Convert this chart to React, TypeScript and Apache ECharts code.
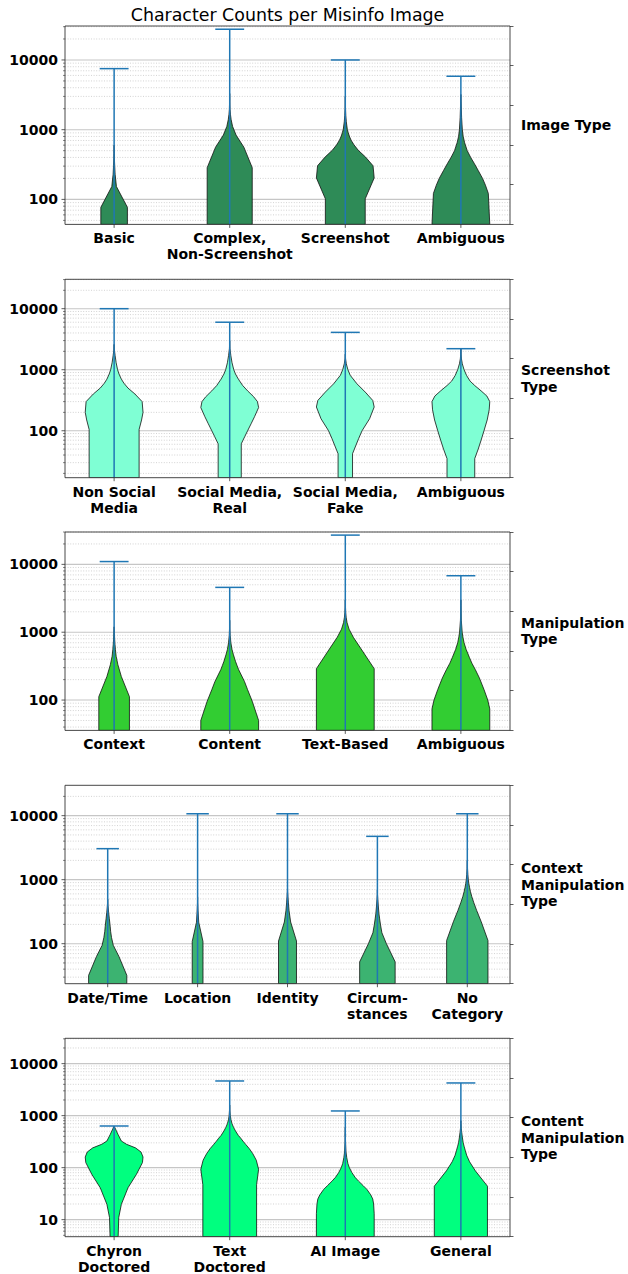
import React, { useEffect, useRef } from 'react';
import * as echarts from 'echarts';

const FONT = "'DejaVu Sans', 'Liberation Sans', sans-serif";

const chartTitle = 'Character Counts per Misinfo Image';

// Tick values for the log axes
const majorTickValues = [1, 10, 100, 1000, 10000];
const minorMultipliers = [2, 3, 4, 5, 6, 7, 8, 9];

// ---- Panel 1: Image Type ----
const imageTypeCategories = ['Basic', 'Complex,\nNon-Screenshot', 'Screenshot', 'Ambiguous'];
const imageTypeMax = [7510, 27600, 10000, 5840];
// each violin: [value, relative half-width] from the top of its vertical base upward
const imageTypeViolins = [
  [[77, 0.46], [153, 0.08], [229, 0.035], [305, 0.02], [381, 0.01], [457, 0.005], [600, 0]],
  [[285, 0.78], [561, 0.49], [837, 0.22], [1113, 0.1], [1390, 0.05], [1666, 0.025], [1942, 0.012], [2500, 0.004], [3300, 0]],
  [[102, 0.69], [203, 1.0], [304, 0.96], [405, 0.7], [506, 0.45], [607, 0.3], [708, 0.2], [809, 0.14], [910, 0.1], [1011, 0.07], [1300, 0.035], [1600, 0.018], [2000, 0.008], [2500, 0.002], [3000, 0]],
  [[122, 0.95], [160, 0.85], [200, 0.75], [260, 0.6], [330, 0.46], [400, 0.34], [500, 0.22], [650, 0.13], [800, 0.08], [1000, 0.05], [1500, 0.025], [2500, 0.008], [3200, 0]],
];
const imageTypeBase = [0.46, 0.78, 0.69, 1.0];

// ---- Panel 2: Screenshot Type ----
const screenshotTypeCategories = ['Non Social\nMedia', 'Social Media,\nReal', 'Social Media,\nFake', 'Ambiguous'];
const screenshotTypeMax = [10000, 6000, 4090, 2210];
const screenshotTypeViolins = [
  [[105, 0.865], [150, 0.95], [200, 1.0], [300, 0.97], [400, 0.72], [500, 0.48], [600, 0.34], [700, 0.25], [850, 0.17], [1000, 0.12], [1300, 0.07], [1700, 0.035], [2100, 0.01], [2600, 0]],
  [[61, 0.4], [80, 0.52], [100, 0.62], [130, 0.74], [170, 0.86], [240, 1.0], [300, 0.96], [360, 0.83], [450, 0.62], [550, 0.45], [700, 0.3], [850, 0.2], [1000, 0.14], [1300, 0.08], [1700, 0.04], [2200, 0.01], [3000, 0]],
  [[42, 0.25], [74, 0.46], [100, 0.58], [157, 0.84], [245, 1.0], [314, 0.95], [430, 0.69], [590, 0.4], [810, 0.17], [1000, 0.09], [1250, 0.035], [1500, 0.01], [1800, 0]],
  [[35, 0.48], [50, 0.6], [70, 0.7], [100, 0.8], [150, 0.91], [220, 0.98], [300, 1.0], [370, 0.9], [450, 0.7], [550, 0.48], [650, 0.32], [800, 0.2], [1000, 0.11], [1250, 0.05], [1500, 0.02], [1800, 0.005], [2200, 0]],
];
const screenshotTypeBase = [0.865, 0.4, 0.25, 0.48];

// ---- Panel 3: Manipulation Type ----
const manipulationTypeCategories = ['Context', 'Content', 'Text-Based', 'Ambiguous'];
const manipulationTypeMax = [11000, 4580, 27000, 6800];
const manipulationTypeViolins = [
  [[112, 0.53], [222, 0.25], [332, 0.13], [442, 0.07], [552, 0.045], [662, 0.03], [772, 0.02], [1000, 0.008], [1200, 0]],
  [[50, 1.0], [96, 0.78], [142, 0.62], [188, 0.51], [234, 0.4], [280, 0.31], [326, 0.25], [372, 0.2], [464, 0.13], [556, 0.08], [700, 0.04], [900, 0.015], [1200, 0.004], [1500, 0]],
  [[290, 1.0], [565, 0.55], [840, 0.28], [1110, 0.13], [1390, 0.06], [1660, 0.03], [1940, 0.015], [2500, 0.004], [3000, 0]],
  [[74, 1.0], [100, 0.93], [143, 0.8], [212, 0.64], [281, 0.5], [350, 0.38], [420, 0.3], [560, 0.18], [700, 0.11], [850, 0.07], [1000, 0.045], [1500, 0.015], [2500, 0.003], [3000, 0]],
];
const manipulationTypeBase = [0.53, 1.0, 1.0, 1.0];

// ---- Panel 4: Context Manipulation Type ----
const contextTypeCategories = ['Date/Time', 'Location', 'Identity', 'Circum-\nstances', 'No\nCategory'];
const contextTypeMax = [3050, 10700, 10700, 4750, 10700];
const contextTypeViolins = [
  [[32, 0.85], [63, 0.5], [94, 0.25], [125, 0.17], [156, 0.13], [187, 0.11], [250, 0.07], [310, 0.04], [400, 0.012], [500, 0]],
  [[108, 0.24], [216, 0.05], [324, 0.02], [432, 0.005], [540, 0]],
  [[110, 0.4], [218, 0.14], [326, 0.07], [434, 0.04], [542, 0.02], [650, 0.005], [760, 0]],
  [[52, 0.79], [100, 0.4], [148, 0.2], [196, 0.14], [244, 0.1], [292, 0.07], [388, 0.04], [484, 0.02], [580, 0.005], [700, 0]],
  [[112, 0.92], [220, 0.62], [328, 0.42], [436, 0.29], [544, 0.2], [652, 0.14], [760, 0.1], [868, 0.07], [1000, 0.045], [1200, 0.025], [1500, 0.01], [2000, 0]],
];
const contextTypeBase = [0.85, 0.24, 0.4, 0.79, 0.92];

// ---- Panel 5: Content Manipulation Type ----
const contentTypeCategories = ['Chyron\nDoctored', 'Text\nDoctored', 'AI Image', 'General'];
const contentTypeMax = [632, 4640, 1230, 4250];
const contentTypeViolins = [
  [[11, 0.16], [19.7, 0.25], [41, 0.48], [74, 0.77], [125, 0.98], [160, 1.0], [200, 0.93], [240, 0.74], [281, 0.43], [325, 0.25], [440, 0.13], [550, 0.05], [630, 0]],
  [[47, 0.93], [93, 1.0], [139, 0.92], [185, 0.8], [231, 0.68], [277, 0.56], [323, 0.46], [369, 0.38], [415, 0.3], [507, 0.2], [600, 0.13], [700, 0.08], [850, 0.04], [1000, 0.02], [1300, 0.006], [1600, 0]],
  [[13, 1.0], [20, 0.98], [25, 0.95], [30, 0.88], [38, 0.75], [45, 0.62], [55, 0.46], [65, 0.34], [80, 0.23], [100, 0.14], [120, 0.09], [156, 0.05], [200, 0.025], [300, 0.01], [380, 0.006], [430, 0.012], [480, 0.004], [600, 0]],
  [[44, 0.92], [87, 0.5], [130, 0.3], [173, 0.2], [216, 0.15], [259, 0.11], [302, 0.08], [388, 0.05], [474, 0.03], [560, 0.015], [700, 0.004], [800, 0]],
];
const contentTypeBase = [0.14, 0.93, 1.0, 0.92];

const panels = [
  { label: 'Image Type', categories: imageTypeCategories, maxes: imageTypeMax, violins: imageTypeViolins, base: imageTypeBase, color: '#2e8b57', yMin: 43.8, yMax: 30700, top: 26 },
  { label: 'Screenshot\nType', categories: screenshotTypeCategories, maxes: screenshotTypeMax, violins: screenshotTypeViolins, base: screenshotTypeBase, color: '#7fffd4', yMin: 17, yMax: 30300, top: 279.3 },
  { label: 'Manipulation\nType', categories: manipulationTypeCategories, maxes: manipulationTypeMax, violins: manipulationTypeViolins, base: manipulationTypeBase, color: '#32cd32', yMin: 35.7, yMax: 30000, top: 532 },
  { label: 'Context\nManipulation\nType', categories: contextTypeCategories, maxes: contextTypeMax, violins: contextTypeViolins, base: contextTypeBase, color: '#3cb371', yMin: 23.7, yMax: 29800, top: 785.3 },
  { label: 'Content\nManipulation\nType', categories: contentTypeCategories, maxes: contentTypeMax, violins: contentTypeViolins, base: contentTypeBase, color: '#00ff7f', yMin: 4.7, yMax: 30700, top: 1038.3 },
];

const GRID_LEFT = 65;
const GRID_WIDTH = 445;
const GRID_HEIGHT = 198.4;
const HALF = 0.25; // violin half width in axis units
const CAP = 0.125;

function buildOption() {
  const grid: any[] = [];
  const xAxis: any[] = [];
  const yAxis: any[] = [];
  const series: any[] = [];

  panels.forEach((p, i) => {
    const n = p.categories.length;
    const xMin = 0.75 - 0.05 * (n - 0.5);
    const xMax = n + 0.25 + 0.05 * (n - 0.5);
    grid.push({ left: GRID_LEFT, width: GRID_WIDTH, top: p.top, height: GRID_HEIGHT, show: false });
    xAxis.push({ gridIndex: i, type: 'value', min: xMin, max: xMax, show: false });
    yAxis.push({ gridIndex: i, type: 'log', logBase: 10, min: p.yMin, max: p.yMax, show: false });
    yAxis.push({
      gridIndex: i, type: 'value', min: 0, max: 1, interval: 0.2, position: 'right',
      axisLine: { show: false },
      axisTick: { show: true, length: 3.5, lineStyle: { color: '#333', width: 0.8 } },
      axisLabel: { show: false }, splitLine: { show: false },
    });

    const ticks: any[] = [];
    majorTickValues.forEach((d) => {
      if (d >= p.yMin && d <= p.yMax) ticks.push([xMin, d, 1]);
      minorMultipliers.forEach((m) => {
        const v = m * d;
        if (v >= p.yMin && v <= p.yMax) ticks.push([xMin, v, 0]);
      });
    });

    // gridlines, left ticks and labels
    series.push({
      type: 'custom', xAxisIndex: i, yAxisIndex: 2 * i, z: 1, clip: false, silent: true,
      data: ticks,
      encode: { x: 0, y: 1 },
      renderItem: (params: any, api: any) => {
        const cs = params.coordSys;
        const v = api.value(1);
        const major = api.value(2) === 1;
        const pt = api.coord([api.value(0), v]);
        const y = pt[1];
        const children: any[] = [
          {
            type: 'line',
            shape: { x1: cs.x, y1: y, x2: cs.x + cs.width, y2: y },
            style: major
              ? { stroke: '#c6c6c6', lineWidth: 1.1 }
              : { stroke: '#c8c8c8', lineWidth: 0.8, lineDash: [1, 1.6] },
          },
          {
            type: 'line',
            shape: { x1: cs.x - (major ? 3.5 : 2), y1: y, x2: cs.x, y2: y },
            style: { stroke: '#333', lineWidth: major ? 0.8 : 0.6 },
          },
        ];
        if (major) {
          children.push({
            type: 'text', x: cs.x - 7, y: y,
            style: { text: String(v), fill: '#000', fontFamily: FONT, fontWeight: 'bold', fontSize: 14, align: 'right', verticalAlign: 'middle' },
          });
        }
        return { type: 'group', children };
      },
    });

    const catData = p.maxes.map((m, j) => [j + 1, m]);

    // violin bodies
    series.push({
      type: 'custom', xAxisIndex: i, yAxisIndex: 2 * i, z: 2, clip: true, silent: true,
      data: catData,
      encode: { x: 0, y: 1 },
      renderItem: (params: any, api: any) => {
        const j = params.dataIndex;
        const pos = j + 1;
        const shape = [[p.yMin, p.base[j]], ...p.violins[j]];
        const right = shape.map(([v, w]) => api.coord([pos + w * HALF, v]));
        const left = shape.slice().reverse().map(([v, w]) => api.coord([pos - w * HALF, v]));
        return {
          type: 'polygon',
          shape: { points: right.concat(left) },
          style: { fill: p.color, stroke: '#111', lineWidth: 0.8 },
        };
      },
    });

    // center bars and max caps
    series.push({
      type: 'custom', xAxisIndex: i, yAxisIndex: 2 * i, z: 3, clip: false, silent: true,
      data: catData,
      encode: { x: 0, y: 1 },
      renderItem: (params: any, api: any) => {
        const pos = api.value(0);
        const m = api.value(1);
        const b = api.coord([pos, p.yMin]);
        const t = api.coord([pos, m]);
        const c1 = api.coord([pos - CAP, m]);
        const c2 = api.coord([pos + CAP, m]);
        const st = { stroke: '#1f77b4', lineWidth: 1.5 };
        return {
          type: 'group',
          children: [
            { type: 'line', shape: { x1: b[0], y1: b[1], x2: t[0], y2: t[1] }, style: st },
            { type: 'line', shape: { x1: c1[0], y1: c1[1], x2: c2[0], y2: c2[1] }, style: st },
          ],
        };
      },
    });

    // x ticks and category labels
    series.push({
      type: 'custom', xAxisIndex: i, yAxisIndex: 2 * i, z: 3, clip: false, silent: true,
      data: catData,
      encode: { x: 0, y: 1 },
      renderItem: (params: any, api: any) => {
        const j = params.dataIndex;
        const b = api.coord([api.value(0), p.yMin]);
        return {
          type: 'group',
          children: [
            { type: 'line', shape: { x1: b[0], y1: b[1], x2: b[0], y2: b[1] + 3.5 }, style: { stroke: '#333', lineWidth: 0.8 } },
            {
              type: 'text', x: b[0], y: b[1] + 6,
              style: { text: p.categories[j], fill: '#000', fontFamily: FONT, fontWeight: 'bold', fontSize: 14, lineHeight: 16, align: 'center', verticalAlign: 'top' },
            },
          ],
        };
      },
    });

    // frame and right label
    series.push({
      type: 'custom', xAxisIndex: i, yAxisIndex: 2 * i, z: 4, clip: false, silent: true,
      data: [[xMin, p.yMin]],
      encode: { x: 0, y: 1 },
      renderItem: (params: any) => {
        const cs = params.coordSys;
        return {
          type: 'group',
          children: [
            { type: 'rect', shape: { x: cs.x, y: cs.y, width: cs.width, height: cs.height }, style: { fill: 'none', stroke: '#333', lineWidth: 0.9 } },
            {
              type: 'text', x: cs.x + cs.width + 11, y: cs.y + cs.height / 2,
              style: { text: p.label, fill: '#000', fontFamily: FONT, fontWeight: 'bold', fontSize: 14, lineHeight: 16.5, align: 'left', verticalAlign: 'middle' },
            },
          ],
        };
      },
    });
  });

  return {
    animation: false,
    backgroundColor: '#fff',
    grid, xAxis, yAxis, series,
    graphic: [
      {
        type: 'text', x: 287.5, y: 15,
        style: { text: chartTitle, fill: '#000', fontFamily: FONT, fontSize: 17.4, align: 'center', verticalAlign: 'middle' },
      },
    ],
  };
}

export default function App() {
  const ref = useRef<HTMLDivElement>(null);
  useEffect(() => {
    if (!ref.current) return;
    const chart = echarts.init(ref.current, undefined, { renderer: 'svg' });
    chart.setOption(buildOption() as any);
    return () => chart.dispose();
  }, []);
  return <div ref={ref} style={{ position: 'absolute', left: 0, top: 0, width: 628, height: 1274 }} />;
}
